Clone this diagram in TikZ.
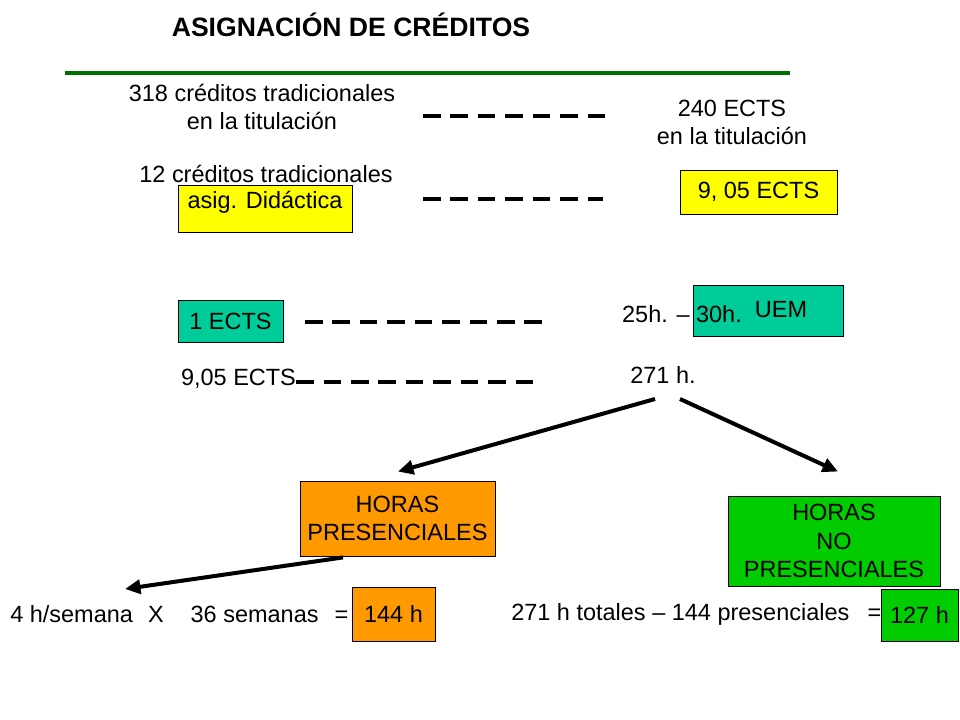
\documentclass[tikz,border=0pt]{standalone}
\usepackage{fontspec}
\setmainfont{Liberation Sans}
\usetikzlibrary{arrows.meta,calc}

\definecolor{amarillo}{RGB}{255,255,0}
\definecolor{naranja}{RGB}{255,153,0}
\definecolor{turquesa}{RGB}{0,204,153}
\definecolor{verde}{RGB}{0,204,0}
\definecolor{verdeoscuro}{RGB}{0,110,0}

\begin{document}
\begin{tikzpicture}[x=0.025cm,y=0.025cm,
	every node/.style={font=\fontsize{16.7}{20.3}\selectfont},
	caja/.style={draw=black,line width=0.6pt,inner sep=0pt},
	guiones/.style={line width=2.85pt,dash pattern=on 12.5pt off 7pt},
	flecha/.style={line width=2.85pt,-{Triangle[length=11pt,width=10pt]}}]

			\useasboundingbox (0,0) rectangle (960,720);

			% Título y línea verde
			\node[font=\bfseries\fontsize{18.9}{22}\selectfont] (titulo) at (351,695) {ASIGNACIÓN DE CRÉDITOS};
			\draw[verdeoscuro, line width=2.85pt] (65,647) -- (790,647);

			% Créditos de la titulación
			\node[align=center] (trad) at (262,613) {318 créditos tradicionales\\en la titulación};
			\node[align=center] (ects) at (732,597.5) {240 ECTS\\en la titulación};
			\coordinate (g1a) at (423,604);
			\coordinate (g1b) at (605,604);
			\draw[guiones] (g1a) -- (g1b);

			% Créditos de la asignatura
			\node (doce) at (266,546) {12 créditos tradicionales};
			\node[caja, fill=amarillo, text depth=12pt, minimum width=4.35cm, minimum height=1.175cm] (asig) at (265,511.5) {asig. Didáctica};
			\node[caja, fill=amarillo, minimum width=3.925cm, minimum height=1.1cm] (nueve) at (758.5,528) {9, 05 ECTS};
			\coordinate (g2a) at (423,521);
			\coordinate (g2b) at (603,521);
			\draw[guiones] (g2a) -- (g2b);

			% Equivalencia en horas
			\node[caja, fill=turquesa, minimum width=2.625cm, minimum height=1.05cm] (uno) at (230.5,399) {1 ECTS};
			\node[caja, fill=turquesa, minimum width=3.75cm, minimum height=1.275cm] (uem) at (768,409.5) {};
			\node (uemtxt) at (781,410) {UEM};
			\node (horas) at (682,406) {25h. – 30h.};
			\coordinate (g3a) at (305,398);
			\coordinate (g3b) at (545,398);
			\draw[guiones] (g3a) -- (g3b);

			\node[inner sep=0pt] (asigects) at (238.5,341) {9,05 ECTS};
			\coordinate (g4b) at (538,338);
			\draw[guiones] (asigects.east |- g4b) -- (g4b);
			\node (total) at (663,345) {271 h.};

			% Reparto de las horas
			\node[caja, fill=naranja, align=center, minimum width=4.875cm, minimum height=1.875cm] (pres) at (397.5,201.5) {HORAS\\PRESENCIALES};
			\node[caja, fill=verde, align=center, minimum width=5.3cm, minimum height=2.25cm] (nopres) at (834,179) {HORAS\\NO\\PRESENCIALES};
			\draw[flecha] ($(total.center)+(-8,-24)$) -- ($(pres.north)+(0.5,9)$);
			\draw[flecha] ($(total.center)+(17,-24)$) -- ($(nopres.north)+(4,24)$);

			% Cálculo de las horas
			\node[anchor=west, inner sep=0pt] (semana) at (10,106) {4 h/semana\hspace{10.7pt}X\hspace{19.2pt}36 semanas\hspace{11.4pt}=};
			\node[caja, fill=naranja, minimum width=2.075cm, minimum height=1.35cm] (cientocuarenta) at (393.5,106) {144 h};
			\coordinate (f3) at (125,131);
			\draw[flecha] ($(pres.south)+(-54.5,-1)$) -- (f3);

			\node[anchor=west, inner sep=0pt] (resta) at (511,106) {271 h totales – 144 presenciales\hspace{13pt}=};
			\node[caja, fill=verde, minimum width=1.925cm, minimum height=1.3cm] (cientoveinte) at (919.5,105) {127 h};

		\end{tikzpicture}
\end{document}
